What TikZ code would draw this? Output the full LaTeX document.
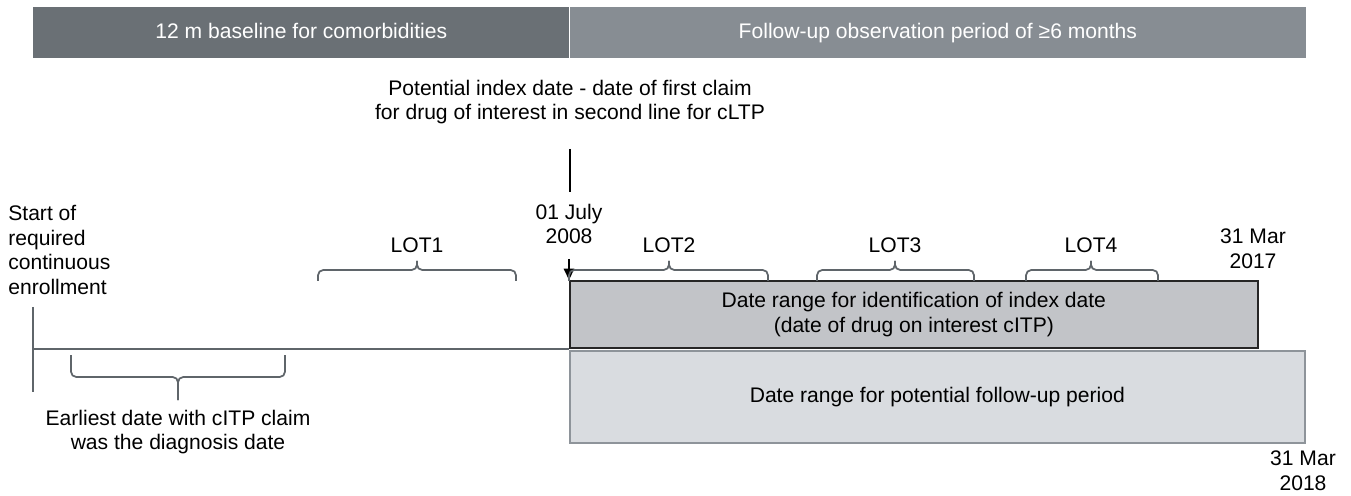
\documentclass[tikz,border=0pt]{standalone}
\usepackage{fontspec}
\setmainfont{Liberation Sans}
\usetikzlibrary{arrows.meta,positioning}

\definecolor{bardark}{HTML}{6A7075}
\definecolor{barlight}{HTML}{878D93}
\definecolor{idfill}{HTML}{C2C4C8}
\definecolor{fupfill}{HTML}{D9DCE0}
\definecolor{fupedge}{HTML}{8E949A}
\definecolor{bracegray}{HTML}{5F656A}

\begin{document}
\begin{tikzpicture}[x=0.02cm, y=-0.02cm]

  % --- styles ---
  \tikzset{
    % top time bar
    bartop/.style={
      text=white,
      font=\fontsize{12}{14}\selectfont,
      minimum height=1.02cm,
      text height=9pt,
      text depth=2.5pt,
      inner sep=0pt
    },
    % plain text
    txt/.style={
      font=\fontsize{12}{14}\selectfont,
      align=center,
      inner sep=0pt
    },
    % date range boxes
    rangebox/.style={
      line width=1pt,
      font=\fontsize{12}{14}\selectfont,
      align=center,
      inner sep=0pt
    },
    bracket/.style={draw=bracegray, line width=1pt, rounded corners=3pt},
    axisline/.style={draw=bracegray, line width=0.9pt}
  }

  \useasboundingbox (0,0) rectangle (1351,496);

  % --- top bar ---
  \node[bartop, fill=bardark, minimum width=10.72cm, anchor=north west] (baseline) at (33,7) {12 m baseline for comorbidities};
  \node[bartop, fill=barlight, minimum width=14.72cm, right=0pt of baseline] (followup) {Follow-up observation period of ≥6 months};

  % --- index date ---
  \node[txt] (indexdate) at (570,102) {Potential index date - date of first claim\\for drug of interest in second line for cLTP};
  \coordinate (tickTop) at (570,149);
  \coordinate (tickBot) at (570,192);
  \draw[line width=1pt] (tickTop) -- (tickBot);
  \node[txt] (startdate) at (569,224) {01 July\\2008};

  % --- date range boxes ---
  \node[rangebox, fill=idfill, draw=black!85, minimum width=13.76cm, minimum height=1.34cm, anchor=north west] (idrange) at (569,280) {Date range for identification of index date\\(date of drug on interest cITP)};
  \node[rangebox, fill=fupfill, draw=fupedge, minimum width=14.7cm, minimum height=1.84cm, anchor=north west] (fuprange) at (569,350) {Date range for potential follow-up period};

  \coordinate (arrowTop) at (569,259);
  \draw[-{Triangle[width=6pt,length=6.5pt]}, line width=0.8pt] (arrowTop) -- (idrange.north west);

  \node[txt] (end2017) at (1253,249) {31 Mar\\2017};
  \node[txt] (end2018) at (1303,471) {31 Mar\\2018};

  % --- enrollment ---
  \node[txt, align=left, anchor=west] (enroll) at (8,250) {Start of\\required\\continuous\\enrollment};
  \coordinate (enrollTop) at (33,307);
  \coordinate (enrollBot) at (33,392);
  \draw[axisline] (enrollTop) -- (enrollBot);
  \coordinate (axisStart) at (33,349);
  \draw[axisline] (axisStart) -- (axisStart -| fuprange.west);

  % --- lines of therapy ---
  % bracket: left x, right x, tip x
  \def\lotbrace#1#2#3{%
    \draw[bracket] (#1,281) -- (#1,270) -- (#3,270) -- (#3,261);
    \draw[bracket] (#2,281) -- (#2,270) -- (#3,270) -- (#3,261);}

  \lotbrace{318}{516}{417}
  \node[txt] (lot1) at (417,245) {LOT1};
  \lotbrace{569}{768}{669}
  \node[txt] (lot2) at (669,245) {LOT2};
  \lotbrace{817}{974}{895}
  \node[txt] (lot3) at (895,245) {LOT3};
  \lotbrace{1026}{1158}{1091}
  \node[txt] (lot4) at (1091,245) {LOT4};

  % --- diagnosis ---
  \draw[bracket] (71,355) -- (71,377) -- (178,377) -- (178,400);
  \draw[bracket] (285,355) -- (285,377) -- (178,377) -- (178,400);
  \node[txt] (diagnosis) at (178,432) {Earliest date with cITP claim\\was the diagnosis date};

\end{tikzpicture}
\end{document}
